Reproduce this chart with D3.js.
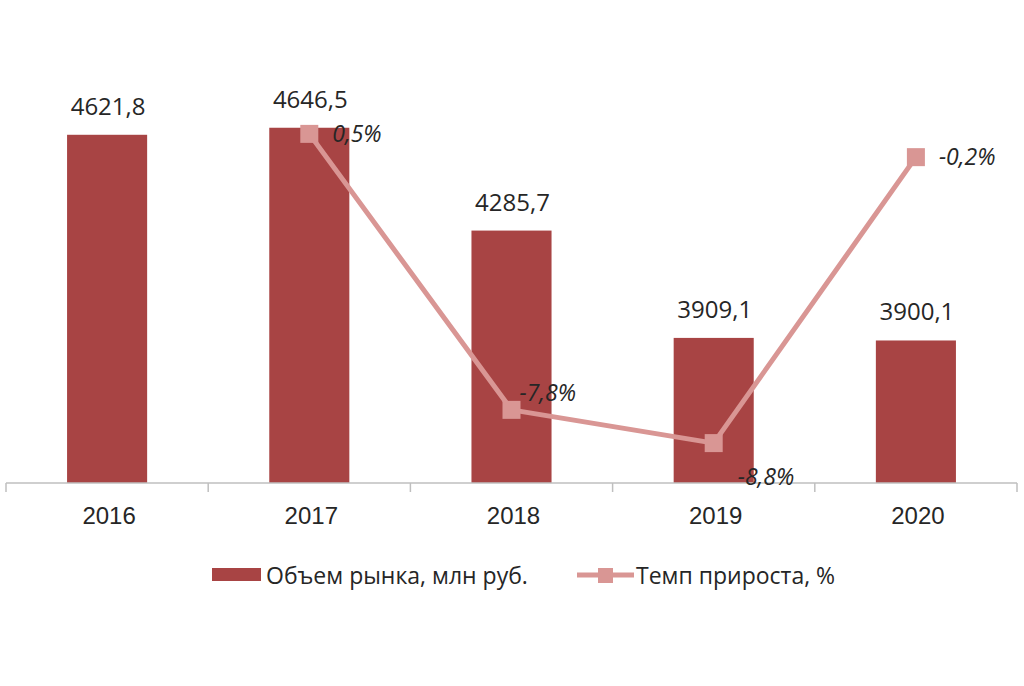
<!DOCTYPE html>
<html>
<head>
<meta charset="utf-8">
<script src="https://cdn.jsdelivr.net/npm/d3@7/dist/d3.min.js"></script>
<style>
  body { margin: 0; background: #fff; }
  svg { display: block; font-family: "Open Sans", sans-serif; }
  .axis path, .axis line { stroke: #bfbfbf; }
  .axis text { font-size: 24px; fill: #262626; }
  .valueLabel { font-size: 24px; fill: #262626; }
  .pctLabel { font-size: 23px; fill: #262626; font-style: italic; }
  .legend text { font-size: 23px; fill: #262626; }
</style>
</head>
<body>
<div id="chart"></div>
<script>
// data
var years = ['2016', '2017', '2018', '2019', '2020'];
var marketVolume = [4621.8, 4646.5, 4285.7, 3909.1, 3900.1];
var growthYears = ['2017', '2018', '2019', '2020'];
var growthRate = [0.5, -7.8, -8.8, -0.2];
var seriesNames = ['Объем рынка, млн руб.', 'Темп прироста, %'];

// where each percent label sits relative to its marker
var pctLabelOffset = [[23, 0], [8, -17], [24, 34], [23, 0]];

var width = 1024, height = 686;
var plot = { left: 6, right: 1017, top: 84, bottom: 483 };
var barColour = '#a84444';
var lineColour = '#d99694';

var svg = d3.select('#chart')
    .append('svg')
    .attr('width', width)
    .attr('height', height);

let x = d3.scaleBand()
    .domain(years)
    .range([plot.left, plot.right])
    .padding(0);

let barWidth = x.bandwidth() * 0.396;

let y = d3.scaleLinear()
    .domain([3400, 4800])
    .range([plot.bottom, plot.top]);

let y2 = d3.scaleLinear()
    .domain([-10, 2])
    .range([plot.bottom, plot.top]);

// russian style numbers: comma decimal, plain hyphen minus
let ru = d3.formatLocale({ decimal: ',', thousands: ' ', grouping: [3], currency: ['', ' руб.'], minus: '-' });
let fmt = ru.format('.1f');

// bars
svg.selectAll('rect.bar')
    .data(marketVolume)
    .enter()
    .append('rect')
    .attr('class', 'bar')
    .attr('x', (d, i) => x(years[i]) + x.bandwidth() / 2 - barWidth / 2)
    .attr('width', barWidth)
    .attr('y', d => y(d))
    .attr('height', d => y.range()[0] - y(d))
    .style('fill', barColour);

svg.selectAll('text.valueLabel')
    .data(marketVolume)
    .enter()
    .append('text')
    .attr('class', 'valueLabel')
    .attr('x', (d, i) => x(years[i]) + x.bandwidth() / 2 + 1)
    .attr('y', d => y(d) - 20)
    .style('text-anchor', 'middle')
    .text(d => fmt(d));

// category axis, labels only; ticks sit on the band edges
let xAxis = d3.axisBottom(x)
    .tickSize(0)
    .tickPadding(24);

let axisG = svg.append('g')
    .attr('class', 'axis xAxis')
    .attr('transform', `translate(0, ${plot.bottom})`)
    .call(xAxis);
axisG.select('.domain').remove();
axisG.selectAll('.tick text').attr('dx', 2);

let edges = years.map(d => x(d)).concat([x(years[years.length - 1]) + x.step()]);
axisG.selectAll('line.edge')
    .data(edges)
    .enter()
    .append('line')
    .attr('class', 'edge')
    .attr('x1', d => d).attr('x2', d => d)
    .attr('y1', 0).attr('y2', 9)
    .style('stroke-width', 1.5);
axisG.append('line')
    .attr('x1', plot.left).attr('x2', plot.right)
    .attr('y1', 0).attr('y2', 0)
    .style('stroke-width', 1.5);

// growth line
let cx = d => x(d) + x.bandwidth() / 2;
let line = d3.line()
    .x((d, i) => cx(growthYears[i]))
    .y(d => y2(d));

svg.append('path')
    .datum(growthRate)
    .attr('d', line)
    .attr('fill', 'none')
    .attr('stroke', lineColour)
    .attr('stroke-width', 5)
    .attr('stroke-linejoin', 'round');

let ms = 18;
svg.selectAll('rect.marker')
    .data(growthRate)
    .enter()
    .append('rect')
    .attr('class', 'marker')
    .attr('x', (d, i) => cx(growthYears[i]) - ms / 2)
    .attr('y', d => y2(d) - ms / 2)
    .attr('width', ms)
    .attr('height', ms)
    .style('fill', lineColour);

svg.selectAll('text.pctLabel')
    .data(growthRate)
    .enter()
    .append('text')
    .attr('class', 'pctLabel')
    .attr('x', (d, i) => cx(growthYears[i]) + pctLabelOffset[i][0])
    .attr('y', (d, i) => y2(d) + pctLabelOffset[i][1])
    .attr('dy', '0.35em')
    .text(d => fmt(d) + '%');

// legend
let legend = svg.append('g').attr('class', 'legend');
legend.append('rect')
    .attr('x', 212).attr('y', 568)
    .attr('width', 49).attr('height', 13)
    .style('fill', barColour);
legend.append('text')
    .attr('x', 266).attr('y', 576)
    .attr('dy', '0.35em')
    .text(seriesNames[0]);
legend.append('line')
    .attr('x1', 577).attr('x2', 634)
    .attr('y1', 575).attr('y2', 575)
    .attr('stroke', lineColour)
    .attr('stroke-width', 5);
legend.append('rect')
    .attr('x', 598).attr('y', 568)
    .attr('width', 15).attr('height', 15)
    .style('fill', lineColour);
legend.append('text')
    .attr('x', 636).attr('y', 576)
    .attr('dy', '0.35em')
    .text(seriesNames[1]);
</script>
</body>
</html>
